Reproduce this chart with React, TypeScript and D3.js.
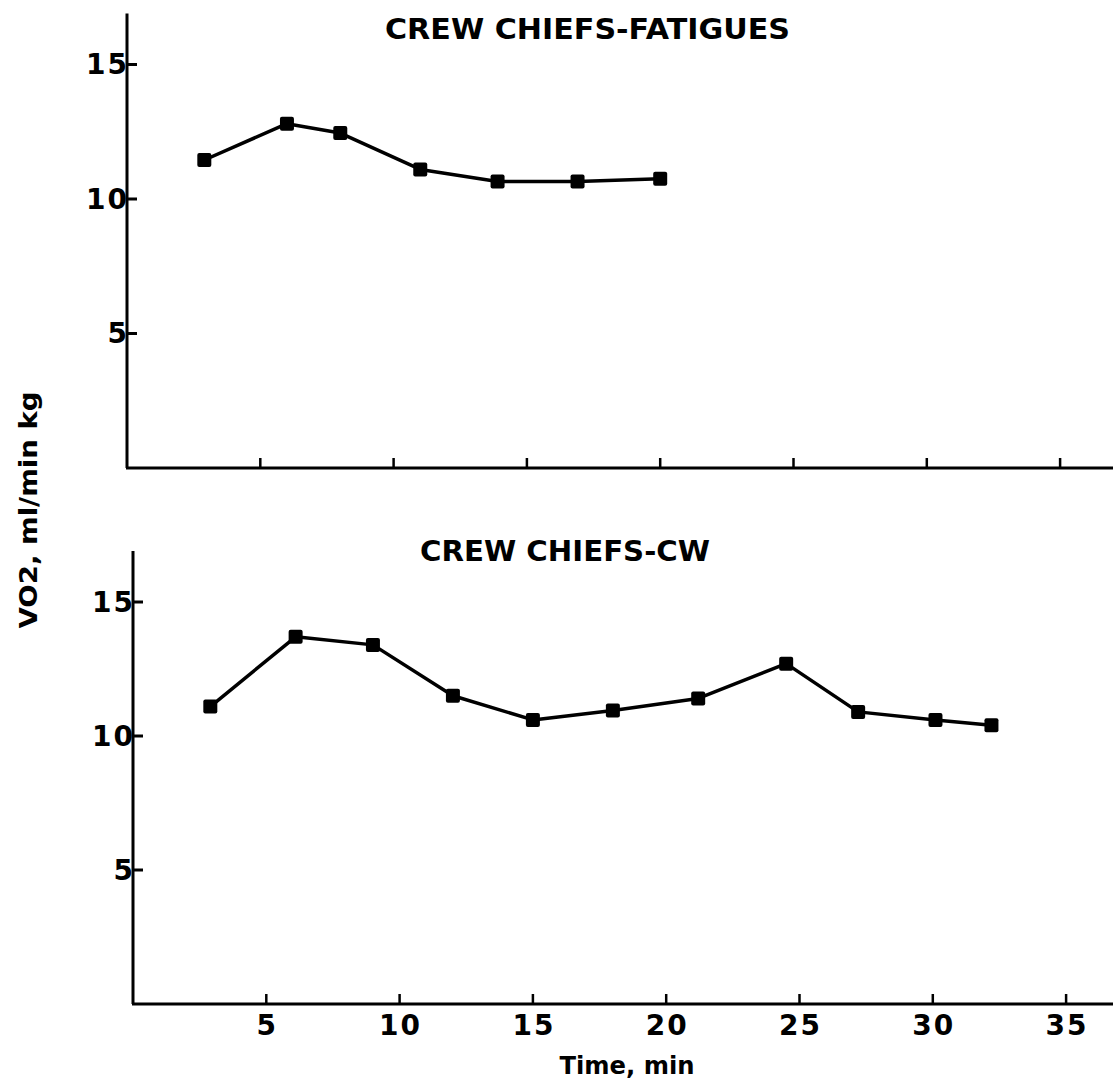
import React from "react";
import * as d3 from "d3";

const fatiguesTime = [2.9, 6, 8, 11, 13.9, 16.9, 20];
const fatiguesVO2 = [11.45, 12.8, 12.45, 11.1, 10.65, 10.65, 10.75];
const cwTime = [2.9, 6.1, 9, 12, 15, 18, 21.2, 24.5, 27.2, 30.1, 32.2];
const cwVO2 = [11.1, 13.7, 13.4, 11.5, 10.6, 10.95, 11.4, 12.7, 10.9, 10.6, 10.4];
const xTickValues = [5, 10, 15, 20, 25, 30, 35];
const yTickValues = [5, 10, 15];
const panelTitles = ["CREW CHIEFS-FATIGUES", "CREW CHIEFS-CW"];
const xAxisTitle = "Time, min";
const yAxisTitle = "VO2, ml/min kg";

const W = 1113;
const H = 1089;
const FONT = "'DejaVu Sans', 'Liberation Sans', sans-serif";

type PanelProps = {
  xs: number[];
  ys: number[];
  x0: number;
  yBase: number;
  yUnit: number;
  title: string;
  titleX: number;
  titleY: number;
  titleLen: number;
  showXLabels: boolean;
};

function Panel({ xs, ys, x0, yBase, yUnit, title, titleX, titleY, titleLen, showXLabels }: PanelProps) {
  const xScale = d3.scaleLinear().domain([0, 35]).range([x0, x0 + 35 * 26.66]);
  const yScale = d3.scaleLinear().domain([0, 16.9]).range([yBase, yBase - 16.9 * yUnit]);
  const pts: [number, number][] = xs.map((x, i) => [x, ys[i]]);
  const line = d3
    .line<[number, number]>()
    .x((d) => xScale(d[0]))
    .y((d) => yScale(d[1]));
  const ax = xScale(0);
  const m = 14;
  return (
    <g>
      <text
        x={titleX}
        y={titleY}
        fontFamily={FONT}
        fontWeight="bold"
        fontSize={29}
        textLength={titleLen}
        lengthAdjust="spacingAndGlyphs"
        dominantBaseline="central"
      >
        {title}
      </text>
      <line x1={ax} x2={ax} y1={yScale(16.9)} y2={yScale(0)} stroke="#000" strokeWidth={3} />
      <line x1={ax - 1} x2={W} y1={yScale(0)} y2={yScale(0)} stroke="#000" strokeWidth={3} />
      {yTickValues.map((t) => (
        <g key={"y" + t}>
          <line x1={ax} x2={ax + 10} y1={yScale(t)} y2={yScale(t)} stroke="#000" strokeWidth={3} />
          <text
            x={ax + (t >= 10 ? 2 : 0)}
            y={yScale(t)}
            textAnchor="end"
            dominantBaseline="central"
            fontFamily={FONT}
            fontWeight="bold"
            fontSize={28}
            letterSpacing={t >= 10 ? 2 : 0}
          >
            {t}
          </text>
        </g>
      ))}
      {xTickValues.map((t) => (
        <g key={"x" + t}>
          <line x1={xScale(t)} x2={xScale(t)} y1={yScale(0)} y2={yScale(0) - 10} stroke="#000" strokeWidth={2.5} />
          {showXLabels && (
            <text
              x={xScale(t) + (t >= 10 ? 1 : 0)}
              y={yScale(0) + 21}
              textAnchor="middle"
              dominantBaseline="central"
              fontFamily={FONT}
              fontWeight="bold"
              fontSize={28}
              letterSpacing={t >= 10 ? 2 : 0}
            >
              {t}
            </text>
          )}
        </g>
      ))}
      <path d={line(pts) || ""} fill="none" stroke="#000" strokeWidth={3.5} strokeLinejoin="round" />
      {pts.map((d, i) => (
        <rect
          key={i}
          x={xScale(d[0]) - m / 2}
          y={yScale(d[1]) - m / 2}
          width={m}
          height={m}
          rx={2}
          fill="#000"
        />
      ))}
    </g>
  );
}

export default function App() {
  return (
    <svg
      width={W}
      height={H}
      viewBox={`0 0 ${W} ${H}`}
      style={{ position: "absolute", left: 0, top: 0, background: "#fff" }}
    >
      <rect x={0} y={0} width={W} height={H} fill="#fff" />
      <Panel
        xs={fatiguesTime}
        ys={fatiguesVO2}
        x0={127}
        yBase={468}
        yUnit={26.9}
        title={panelTitles[0]}
        titleX={385}
        titleY={29}
        titleLen={405}
        showXLabels={false}
      />
      <Panel
        xs={cwTime}
        ys={cwVO2}
        x0={133}
        yBase={1004}
        yUnit={26.8}
        title={panelTitles[1]}
        titleX={420}
        titleY={551}
        titleLen={290}
        showXLabels={true}
      />
      <text
        x={627}
        y={1066}
        textAnchor="middle"
        dominantBaseline="central"
        fontFamily={FONT}
        fontWeight="bold"
        fontSize={24}
        textLength={135}
        lengthAdjust="spacingAndGlyphs"
      >
        {xAxisTitle}
      </text>
      <text
        transform="translate(28, 510) rotate(-90)"
        textAnchor="middle"
        dominantBaseline="central"
        fontFamily={FONT}
        fontWeight="bold"
        fontSize={25}
        textLength={237}
        lengthAdjust="spacingAndGlyphs"
      >
        {yAxisTitle}
      </text>
    </svg>
  );
}
